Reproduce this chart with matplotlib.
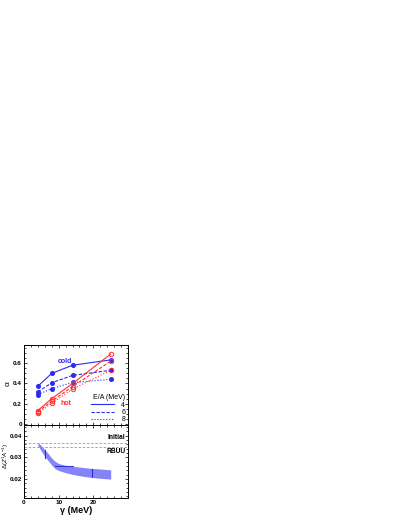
import matplotlib
matplotlib.use("Agg")
import matplotlib.pyplot as plt
from matplotlib.lines import Line2D
from matplotlib.ticker import MultipleLocator, FuncFormatter, FixedLocator

plt.rcParams['font.family'] = ['Liberation Sans', 'DejaVu Sans']
plt.rcParams['mathtext.fontset'] = 'custom'
plt.rcParams['mathtext.rm'] = 'Liberation Sans'
plt.rcParams['mathtext.it'] = 'Liberation Sans:italic'
plt.rcParams['mathtext.bf'] = 'Liberation Sans:bold'

# ---------------- data ----------------
gamma = [4, 8, 14, 25]
cold_4 = [0.373, 0.50, 0.58, 0.633]
cold_6 = [0.317, 0.407, 0.48, 0.53]
cold_8 = [0.29, 0.35, 0.41, 0.44]
hot_4 = [0.133, 0.25, 0.40, 0.69]
hot_6 = [0.12, 0.225, 0.37, 0.62]
hot_8 = [0.105, 0.205, 0.345, 0.53]

band_gamma = [4, 5, 6, 7, 8, 9, 10, 12, 14, 16, 18, 20, 22, 25]
band_upper = [0.0368, 0.0355, 0.0335, 0.0318, 0.0297, 0.0282, 0.0272, 0.0264,
              0.0259, 0.0256, 0.0252, 0.0249, 0.0247, 0.0243]
band_lower = [0.0355, 0.0330, 0.0305, 0.0285, 0.0265, 0.0248, 0.0240, 0.0230,
              0.0222, 0.0216, 0.0211, 0.0207, 0.0204, 0.0200]
initial_level = 0.0369
rbuu_level = 0.0347
legend_labels = ["4", "6", "8"]
x_ticks = [0, 10, 20]

BLUE = '#2b2bf0'
RED = '#ff3030'
BAND = '#8484f8'
DARK = '#2a2ae0'

fig = plt.figure(figsize=(4.0, 5.18), dpi=100)
W, H = 400, 518
def box(l, t, r, b):
    return [l / W, 1 - b / H, (r - l) / W, (b - t) / H]

ax1 = fig.add_axes(box(24, 345, 128, 425))
ax2 = fig.add_axes(box(24, 425, 128, 498))

fs = 4.6
for ax in (ax1, ax2):
    ax.tick_params(which='both', direction='in', top=True, right=True,
                   labelsize=fs, pad=1.5, width=0.5)
    ax.tick_params(which='major', length=2.5)
    ax.tick_params(which='minor', length=1.3)
    for s in ax.spines.values():
        s.set_linewidth(0.7)
    ax.set_xlim(0, 30)
    ax.xaxis.set_major_locator(FixedLocator(x_ticks))
    ax.xaxis.set_minor_locator(MultipleLocator(2))

# ---------------- top panel ----------------
lw = 0.8
ms = 2.6
ax1.plot(gamma, cold_4, '-', color=BLUE, lw=lw, marker='o', ms=ms, mfc=BLUE, mec=BLUE)
ax1.plot(gamma, cold_6, '--', color=BLUE, lw=lw, marker='o', ms=ms, mfc=BLUE, mec=BLUE, dashes=(3, 1.5))
ax1.plot(gamma, cold_8, ':', color=BLUE, lw=lw, marker='o', ms=ms, mfc=BLUE, mec=BLUE)
ax1.plot(gamma, hot_4, '-', color=RED, lw=lw, marker='o', ms=ms + 0.6, mfc='none', mec=RED, mew=0.7)
ax1.plot(gamma, hot_6, '--', color=RED, lw=lw, marker='o', ms=ms + 0.6, mfc='none', mec=RED, mew=0.7, dashes=(3, 1.5))
ax1.plot(gamma, hot_8, ':', color=RED, lw=lw, marker='o', ms=ms + 0.6, mfc='none', mec=RED, mew=0.7)

ax1.set_ylim(-0.01, 0.78)
ax1.yaxis.set_major_locator(MultipleLocator(0.2))
ax1.yaxis.set_minor_locator(MultipleLocator(0.05))
ax1.yaxis.set_major_formatter(FuncFormatter(lambda v, p: '0' if abs(v) < 1e-9 else f'{v:.1f}'))
ax1.tick_params(labelbottom=False)
ax1.set_ylabel('α', fontsize=6)
ax1.yaxis.set_label_coords(-0.12, 0.52)

ax1.text(11.8, 0.62, 'cold', color=BLUE, fontsize=5, fontweight='bold', ha='center', va='center')
ax1.text(12.2, 0.205, 'hot', color=RED, fontsize=5, fontweight='bold', ha='center', va='center')

handles = [Line2D([], [], color=BLUE, lw=lw, ls='-'),
           Line2D([], [], color=BLUE, lw=lw, ls='--', dashes=(3, 1.5)),
           Line2D([], [], color=BLUE, lw=lw, ls=':')]
leg = ax1.legend(handles, legend_labels, title='E/A (MeV)', loc='lower right',
                 bbox_to_anchor=(1.02, -0.04), frameon=False, fontsize=5,
                 title_fontsize=5, handlelength=3.4, handletextpad=1.0,
                 labelspacing=0.05, borderpad=0.2, markerfirst=True)
leg._legend_box.align = 'right'

# ---------------- bottom panel ----------------
ax2.fill_between(band_gamma, band_lower, band_upper, color=BAND, lw=0)
ax2.axhline(initial_level, color='#999999', lw=0.6, ls=(0, (3, 2)))
ax2.axhline(rbuu_level, color='#999999', lw=0.6, ls=(0, (3, 2)))
ax2.text(29.2, initial_level + 0.0005, 'Initial', fontsize=4.8, fontweight='bold', ha='right', va='bottom')
ax2.text(29.2, rbuu_level - 0.0005, 'RBUU', fontsize=4.8, fontweight='bold', ha='right', va='top')

# darker segments inside the band
ax2.plot([band_gamma[2], band_gamma[2]], [band_lower[1] - 0.0032, band_upper[2]], color=DARK, lw=0.8)
ax2.plot([band_gamma[5], band_gamma[8]], [0.0259, 0.0259], color=DARK, lw=0.7)
ax2.plot([19.6, 19.6], [band_lower[11] + 0.0002, band_upper[11] - 0.0004], color=DARK, lw=0.8)

ax2.set_ylim(0.0113, 0.045)
ax2.yaxis.set_major_locator(MultipleLocator(0.01))
ax2.yaxis.set_minor_locator(MultipleLocator(0.002))
ax2.yaxis.set_major_formatter(FuncFormatter(lambda v, p: f'{v:.2f}'))
ax2.xaxis.set_major_formatter(FuncFormatter(lambda v, p: f'{v:.0f}'))
ax2.set_ylabel(r'$\Delta(Z^{1}A^{-1})$', fontsize=4.4)
ax2.yaxis.set_label_coords(-0.128, 0.58)
ax2.set_xlabel('γ (MeV)', fontsize=6.5, fontweight='bold', labelpad=1)

for ax in (ax1, ax2):
    for lab in ax.get_xticklabels() + ax.get_yticklabels():
        lab.set_fontweight('bold')

fig.savefig('out.png', dpi=100)
